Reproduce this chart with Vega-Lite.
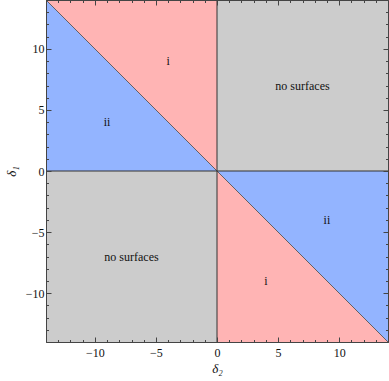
{
  "$schema": "https://vega.github.io/schema/vega-lite/v6.json",
  "width": 342,
  "height": 342,
  "autosize": "none",
  "padding": {"left": 46, "top": 0, "right": 1, "bottom": 39},
  "background": "white",
  "config": {
    "view": {"stroke": null},
    "axis": {
      "grid": false,
      "domainColor": "#444",
      "domainWidth": 1,
      "tickColor": "#444",
      "tickWidth": 1,
      "labelFont": "Liberation Serif",
      "labelFontSize": 12,
      "labelColor": "#111",
      "titleFont": "Liberation Serif",
      "titleFontSize": 13,
      "titleFontWeight": "normal",
      "titleFontStyle": "italic",
      "titleColor": "#111"
    }
  },
  "datasets": {
    "regions": [
      {"piece": "tl_blue", "region": "ii", "x": -14, "y": 0, "y2": 14},
      {"piece": "tl_blue", "region": "ii", "x": 0, "y": 0, "y2": 0},
      {"piece": "tl_pink", "region": "i", "x": -14, "y": 14, "y2": 14},
      {"piece": "tl_pink", "region": "i", "x": 0, "y": 0, "y2": 14},
      {"piece": "tr_gray", "region": "no surfaces", "x": 0, "y": 0, "y2": 14},
      {"piece": "tr_gray", "region": "no surfaces", "x": 14, "y": 0, "y2": 14},
      {"piece": "bl_gray", "region": "no surfaces", "x": -14, "y": -14, "y2": 0},
      {"piece": "bl_gray", "region": "no surfaces", "x": 0, "y": -14, "y2": 0},
      {"piece": "br_blue", "region": "ii", "x": 0, "y": 0, "y2": 0},
      {"piece": "br_blue", "region": "ii", "x": 14, "y": -14, "y2": 0},
      {"piece": "br_pink", "region": "i", "x": 0, "y": -14, "y2": 0},
      {"piece": "br_pink", "region": "i", "x": 14, "y": -14, "y2": -14}
    ],
    "lines": [
      {"kind": "diag", "x": -14, "y": 14, "x2": 14, "y2": -14},
      {"kind": "cross", "x": 0, "y": -14, "x2": 0, "y2": 14},
      {"kind": "cross", "x": -14, "y": 0, "x2": 14, "y2": 0}
    ],
    "labels": [
      {"x": -4, "y": 9, "text": "i"},
      {"x": -9, "y": 4, "text": "ii"},
      {"x": 7, "y": 7, "text": "no surfaces"},
      {"x": -7, "y": -7, "text": "no surfaces"},
      {"x": 9, "y": -4, "text": "ii"},
      {"x": 4, "y": -9, "text": "i"}
    ]
  },
  "layer": [
    {
      "data": {"name": "regions"},
      "mark": {"type": "area", "strokeWidth": 0, "opacity": 1},
      "encoding": {
        "x": {"field": "x", "type": "quantitative", "scale": {"domain": [-14, 14], "nice": false, "zero": false},
              "axis": {"orient": "bottom", "zindex": 1, "values": [-10, -5, 0, 5, 10], "title": "δ₂", "tickSize": -5, "labelPadding": 10, "titlePadding": 4, "labelFlush": false}},
        "y": {"field": "y", "type": "quantitative", "stack": null, "scale": {"domain": [-14, 14], "nice": false, "zero": false},
              "axis": {"orient": "left", "zindex": 1, "values": [-10, -5, 0, 5, 10], "title": "δ₁", "tickSize": -5, "labelPadding": 7, "titlePadding": 7, "labelFlush": false}},
        "y2": {"field": "y2"},
        "color": {"field": "region", "type": "nominal", "scale": {"domain": ["i", "ii", "no surfaces"], "range": ["#FFB4B4", "#93B4FF", "#CCCCCC"]}, "legend": null},
        "detail": {"field": "piece"}
      }
    },
    {
      "data": {"name": "lines"},
      "transform": [{"filter": "datum.kind === 'diag'"}],
      "mark": {"type": "rule", "color": "#555", "strokeWidth": 0.9},
      "encoding": {
        "x": {"field": "x", "type": "quantitative",
              "axis": {"orient": "bottom", "zindex": 1, "values": [-14, -13, -12, -11, -9, -8, -7, -6, -4, -3, -2, -1, 1, 2, 3, 4, 6, 7, 8, 9, 11, 12, 13, 14], "title": null, "labels": false, "domain": false, "tickSize": -2.5}},
        "y": {"field": "y", "type": "quantitative",
              "axis": {"orient": "left", "zindex": 1, "values": [-14, -13, -12, -11, -9, -8, -7, -6, -4, -3, -2, -1, 1, 2, 3, 4, 6, 7, 8, 9, 11, 12, 13, 14], "title": null, "labels": false, "domain": false, "tickSize": -2.5}},
        "x2": {"field": "x2"},
        "y2": {"field": "y2"}
      }
    },
    {
      "data": {"name": "lines"},
      "transform": [{"filter": "datum.kind === 'cross'"}],
      "mark": {"type": "rule", "color": "#333", "strokeWidth": 1},
      "encoding": {
        "x": {"field": "x", "type": "quantitative",
              "axis": {"orient": "top", "zindex": 1, "values": [-14, -13, -12, -11, -9, -8, -7, -6, -4, -3, -2, -1, 1, 2, 3, 4, 6, 7, 8, 9, 11, 12, 13, 14], "title": null, "labels": false, "domain": false, "tickSize": -2.5}},
        "y": {"field": "y", "type": "quantitative",
              "axis": {"orient": "right", "zindex": 1, "values": [-14, -13, -12, -11, -9, -8, -7, -6, -4, -3, -2, -1, 1, 2, 3, 4, 6, 7, 8, 9, 11, 12, 13, 14], "title": null, "labels": false, "domain": false, "tickSize": -2.5}},
        "x2": {"field": "x2"},
        "y2": {"field": "y2"}
      }
    },
    {
      "data": {"name": "labels"},
      "mark": {"type": "text", "font": "Liberation Serif", "fontSize": 12, "color": "#111"},
      "encoding": {
        "x": {"field": "x", "type": "quantitative",
              "axis": {"orient": "top", "zindex": 1, "values": [-10, -5, 0, 5, 10], "title": null, "labels": false, "tickSize": -5}},
        "y": {"field": "y", "type": "quantitative",
              "axis": {"orient": "right", "zindex": 1, "values": [-10, -5, 0, 5, 10], "title": null, "labels": false, "tickSize": -5}},
        "text": {"field": "text"}
      }
    }
  ],
  "resolve": {"axis": {"x": "independent", "y": "independent"}}
}
